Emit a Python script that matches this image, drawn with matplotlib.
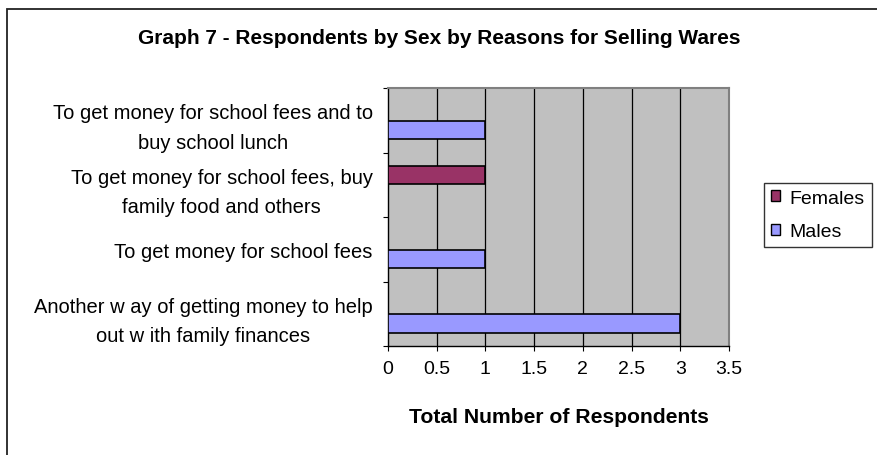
import matplotlib
matplotlib.use("Agg")
import matplotlib.pyplot as plt
from matplotlib.patches import Rectangle, Patch
import numpy as np

plt.rcParams['font.family'] = ['Liberation Sans', 'DejaVu Sans']

categories = [
    "Another w ay of getting money to help\nout w ith family finances",
    "To get money for school fees",
    "To get money for school fees, buy\nfamily food and others",
    "To get money for school fees and to\nbuy school lunch",
]
females = [0, 0, 1, 0]
males = [3, 1, 0, 1]
series_names = ["Females", "Males"]
xticks = [0, 0.5, 1, 1.5, 2, 2.5, 3, 3.5]
title = "Graph 7 - Respondents by Sex by Reasons for Selling Wares"
xlabel = "Total Number of Respondents"

col_f = "#993366"
col_m = "#9999FF"

fig = plt.figure(figsize=(8.77, 4.56), dpi=100)
fig.patch.set_facecolor("white")

# outer chart border
fig.add_artist(Rectangle((7/877, -0.05), 1.0, 1 - 10/456 + 0.05, transform=fig.transFigure,
                         fill=False, edgecolor="#222222", linewidth=1.3))

ax = fig.add_axes([388/877, 1 - 347/456, (729 - 388)/877, (347 - 89)/456])
ax.set_facecolor("#C0C0C0")

y = np.arange(len(categories))
h = 0.285
off = 0.15
ax.barh(y + off, females, height=h, color=col_f, edgecolor="black", linewidth=1.2, zorder=3)
ax.barh(y - off, males, height=h, color=col_m, edgecolor="black", linewidth=1.2, zorder=3)

ax.set_xlim(0, 3.5)
ax.set_ylim(-0.5, len(categories) - 0.5)
ax.set_xticks(xticks)
ax.set_xticklabels([f"{t:g}" for t in xticks], fontsize=14)
ax.set_yticks(np.arange(len(categories) + 1) - 0.5, minor=False)
ax.set_yticklabels([])
ax.set_yticks(y, minor=True)
ax.set_yticklabels(categories, minor=True, fontsize=14.5, ha="right",
                   multialignment="center", linespacing=1.7)
ax.tick_params(axis="y", which="minor", length=0, pad=11)
ax.tick_params(axis="y", which="major", length=3.6, direction="out", color="black")
ax.tick_params(axis="x", length=3.6, direction="out", pad=6.5, color="black")

for t in xticks[1:-1]:
    ax.axvline(t, color="black", linewidth=0.9, zorder=1)

for s in ["top", "right"]:
    ax.spines[s].set_color("#808080")
    ax.spines[s].set_linewidth(1.5)
for s in ["left", "bottom"]:
    ax.spines[s].set_color("black")
    ax.spines[s].set_linewidth(1.0)

fig.text(558.5/877, 1 - 423/456, xlabel, fontsize=15.2, fontweight="bold",
         ha="center", va="baseline")
fig.text(439.5/877, 1 - 43.5/456, title, fontsize=15, fontweight="bold",
         ha="center", va="baseline")

handles = [Patch(facecolor=col_f, edgecolor="black", label=series_names[0]),
           Patch(facecolor=col_m, edgecolor="black", label=series_names[1])]
leg = fig.legend(handles=handles, loc="center", bbox_to_anchor=(818/877, 1 - 216/456),
                 fontsize=14, frameon=True, fancybox=False, edgecolor="black",
                 handlelength=0.45, handleheight=0.45, handletextpad=0.5, labelspacing=0.86,
                 borderpad=0.35, borderaxespad=0)
leg.get_frame().set_linewidth(1.0)

fig.savefig("out.png", dpi=100)
